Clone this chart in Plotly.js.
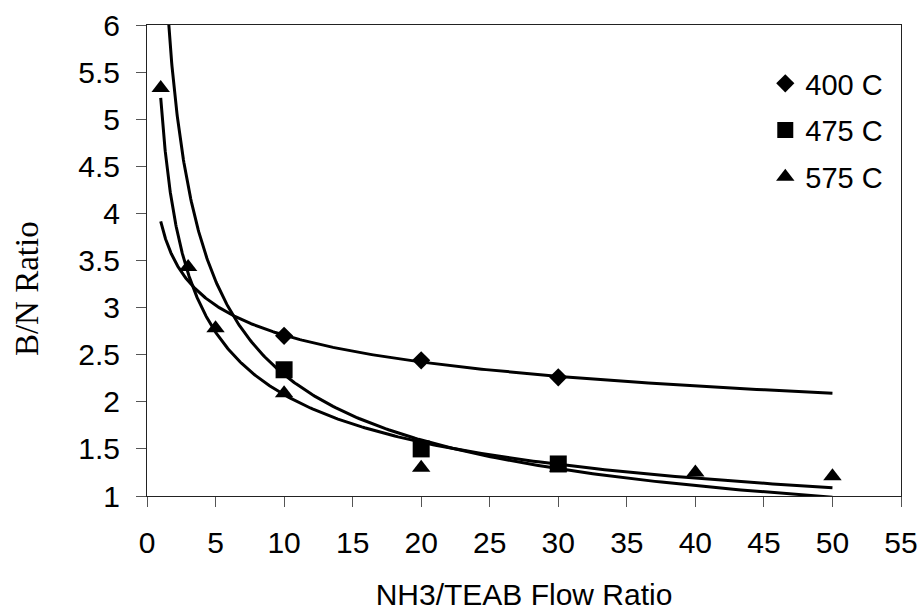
<!DOCTYPE html>
<html>
<head>
<meta charset="utf-8">
<script src="https://cdn.plot.ly/plotly-3.0.1.min.js"></script>
<style>html,body{margin:0;padding:0;background:#fff;}#chart{width:923px;height:611px;}</style>
</head>
<body>
<div id="chart"></div>
<script>
// Data
const seriesNames = ['400 C', '475 C', '575 C'];
const x400 = [10, 20, 30];
const y400 = [2.70, 2.44, 2.26];
const x475 = [10, 20, 30];
const y475 = [2.34, 1.50, 1.34];
const x575 = [1, 3, 5, 10, 20, 30, 40, 50];
const y575 = [5.33, 3.43, 2.78, 2.09, 1.30, 1.30, 1.25, 1.21];
const trendRange = [1, 50];
const xTicks = [0, 5, 10, 15, 20, 25, 30, 35, 40, 45, 50, 55];
const yTicks = [1, 1.5, 2, 2.5, 3, 3.5, 4, 4.5, 5, 5.5, 6];

// Power trendline (least squares in log-log space), as the spreadsheet draws it
function powerFit(xs, ys) {
  const lx = xs.map(Math.log), ly = ys.map(Math.log);
  const n = xs.length;
  const mx = lx.reduce((a, b) => a + b, 0) / n;
  const my = ly.reduce((a, b) => a + b, 0) / n;
  let sxy = 0, sxx = 0;
  for (let i = 0; i < n; i++) { sxy += (lx[i] - mx) * (ly[i] - my); sxx += (lx[i] - mx) ** 2; }
  const b = sxy / sxx;
  const a = Math.exp(my - b * mx);
  const tx = [], ty = [];
  const steps = 300;
  const l0 = Math.log(trendRange[0]), l1 = Math.log(trendRange[1]);
  for (let i = 0; i <= steps; i++) {
    const x = Math.exp(l0 + (l1 - l0) * i / steps);
    tx.push(x); ty.push(a * Math.pow(x, b));
  }
  return {x: tx, y: ty};
}

const lineStyle = {color: '#000', width: 3};
const t400 = powerFit(x400, y400);
const t475 = powerFit(x475, y475);
const t575 = powerFit(x575, y575);

const traces = [
  {x: t400.x, y: t400.y, mode: 'lines', line: lineStyle, showlegend: false, hoverinfo: 'skip'},
  {x: t475.x, y: t475.y, mode: 'lines', line: lineStyle, showlegend: false, hoverinfo: 'skip'},
  {x: t575.x, y: t575.y, mode: 'lines', line: lineStyle, showlegend: false, hoverinfo: 'skip'},
  {x: x400, y: y400, name: seriesNames[0], mode: 'markers', legendgroup: 'a',
   marker: {symbol: 'diamond', size: 14, color: '#000'}},
  {x: x475, y: y475, name: seriesNames[1], mode: 'markers', legendgroup: 'b',
   marker: {symbol: 'square', size: 17, color: '#000'}},
  {x: x575, y: y575, name: seriesNames[2], mode: 'markers', legendgroup: 'c',
   marker: {symbol: 'triangle-up', size: 16, color: '#000'}}
];

const tickFont = {family: 'Liberation Sans, Arial, sans-serif', size: 30, color: '#000'};

const layout = {
  width: 923, height: 611,
  margin: {l: 147, r: 22, t: 25, b: 115, pad: 0},
  paper_bgcolor: '#fff', plot_bgcolor: '#fff',
  showlegend: true,
  legend: {
    x: 0.82, y: 0.93, xanchor: 'left', yanchor: 'top',
    font: {family: 'Liberation Sans, Arial, sans-serif', size: 29, color: '#000'},
    bgcolor: 'rgba(0,0,0,0)', borderwidth: 0,
    tracegroupgap: 6, itemwidth: 30
  },
  xaxis: {
    range: [0, 55], tickvals: xTicks, ticktext: xTicks.map(String),
    showgrid: false, zeroline: false,
    showline: true, linecolor: '#222', linewidth: 1, mirror: true,
    ticks: 'outside', ticklen: 10, tickcolor: '#555', tickwidth: 1,
    tickfont: tickFont, ticklabelstandoff: 10,
    title: {text: 'NH3/TEAB Flow Ratio', font: {family: 'Liberation Sans, Arial, sans-serif', size: 30, color: '#000'}, standoff: 27}
  },
  yaxis: {
    range: [1, 6], tickvals: yTicks, ticktext: yTicks.map(String),
    showgrid: false, zeroline: false,
    showline: true, linecolor: '#222', linewidth: 1, mirror: true,
    ticks: 'outside', ticklen: 10, tickcolor: '#555', tickwidth: 1,
    tickfont: tickFont, ticklabelstandoff: 10
  },
  annotations: [{
    text: 'B/N Ratio', textangle: -90, showarrow: false,
    xref: 'paper', yref: 'paper', x: -0.160, y: 0.44, xanchor: 'center', yanchor: 'middle',
    font: {family: 'Liberation Serif, Times New Roman, serif', size: 33, color: '#000'}
  }]
};

Plotly.newPlot('chart', traces, layout, {staticPlot: true, displayModeBar: false});
</script>
</body>
</html>
